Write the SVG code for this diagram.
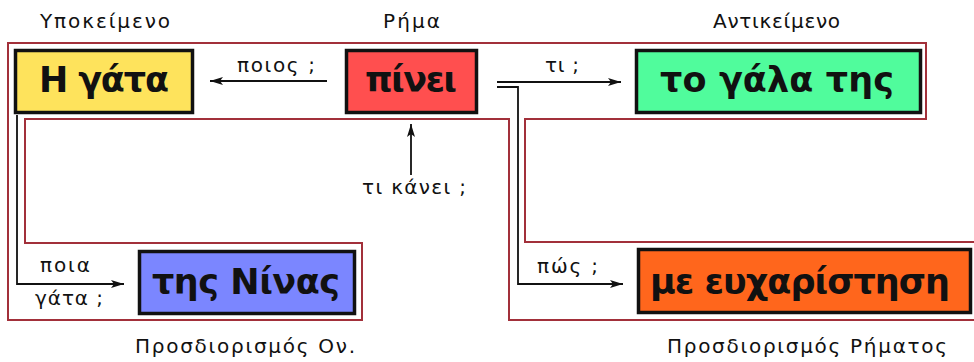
<svg xmlns="http://www.w3.org/2000/svg" width="974" height="362" viewBox="0 0 974 362">
<style>
.frame{fill:none;stroke:#a2303a;stroke-width:2}
.box{stroke:#111;stroke-width:3.5}
.bt{font-family:"DejaVu Sans","Noto Sans",sans-serif;font-weight:bold;font-size:35px;fill:#111;text-anchor:middle}
.lb{font-family:"DejaVu Sans","Noto Sans",sans-serif;font-size:20px;fill:#111}
.con{fill:none;stroke:#111;stroke-width:1.8}
</style>
<defs>
<marker id="ah" markerUnits="userSpaceOnUse" markerWidth="14" markerHeight="10" refX="13" refY="5" orient="auto">
<path d="M0,1 L13,5 L0,9 L3,5 z" fill="#111"/>
</marker>
</defs>
<rect width="974" height="362" fill="#fff"/>
<polygon class="frame" points="8,43 926,43 926,119 525,119 525,242 980,242 980,320 509,320 509,119 25,119 25,243 362,243 362,320 8,320"/>
<g id="connectors">
<line class="con" x1="327" y1="81" x2="210" y2="81" marker-end="url(#ah)"/>
<line class="con" x1="411" y1="175" x2="411" y2="124" marker-end="url(#ah)"/>
<line class="con" x1="497" y1="82" x2="621" y2="82" marker-end="url(#ah)"/>
<polyline class="con" points="497,87 518,87 518,284 623,284" marker-end="url(#ah)"/>
<polyline class="con" points="17,115 17,284 124,284" marker-end="url(#ah)"/>
<text class="lb" x="237" y="72" textLength="78">ποιος ;</text>
<text class="lb" x="545" y="72" textLength="34">τι ;</text>
<text class="lb" x="362" y="194" textLength="104">τι κάνει ;</text>
<text class="lb" x="40" y="272" textLength="50">ποια</text>
<text class="lb" x="35" y="305" textLength="68">γάτα ;</text>
<text class="lb" x="537" y="273" textLength="61">πώς ;</text>
</g>
<g id="labels">
<text class="lb" x="40" y="28" textLength="130">Υποκείμενο</text>
<text class="lb" x="383" y="28" textLength="57">Ρήμα</text>
<text class="lb" x="713" y="28" textLength="127">Αντικείμενο</text>
<text class="lb" x="135" y="353" textLength="220">Προσδιορισμός Ον.</text>
<text class="lb" x="667" y="353" textLength="280">Προσδιορισμός Ρήματος</text>
</g>
<g id="n-gata">
<rect class="box" x="15.5" y="50.5" width="177" height="62" fill="#fee35c"/>
<text class="bt" x="104" y="92" textLength="130">Η γάτα</text>
</g>
<g id="n-pinei">
<rect class="box" x="346.5" y="50.5" width="130" height="62" fill="#ff4f4f"/>
<text class="bt" x="411" y="92" textLength="92">πίνει</text>
</g>
<g id="n-gala">
<rect class="box" x="636.5" y="50.5" width="284" height="62" fill="#50fc9c"/>
<text class="bt" x="777" y="92" textLength="234">το γάλα της</text>
</g>
<g id="n-ninas">
<rect class="box" x="139.5" y="251.5" width="215" height="62" fill="#7b86ff"/>
<text class="bt" x="246" y="294" textLength="188">της Νίνας</text>
</g>
<g id="n-eyxaristisi">
<rect class="box" x="638.5" y="249.5" width="332" height="63" fill="#ff661c"/>
<text class="bt" x="800" y="294" textLength="300">με ευχαρίστηση</text>
</g>
</svg>
